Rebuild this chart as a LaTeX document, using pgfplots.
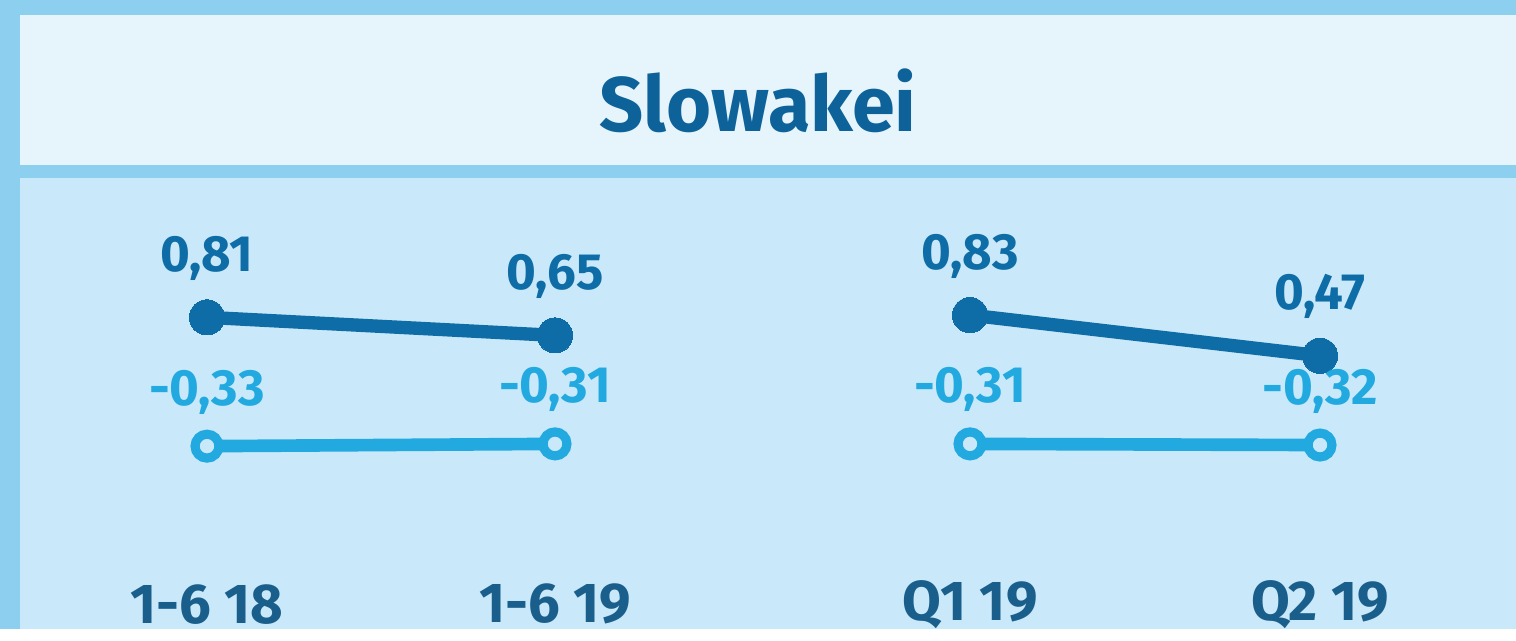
\documentclass[border=0pt]{standalone}
\usepackage{pgfplots}
\pgfplotsset{compat=1.18}
\usepackage{fontspec}
\setmainfont{Fira Sans}
\definecolor{frame}{HTML}{8CCFEE}
\definecolor{titlebg}{HTML}{E6F4FC}
\definecolor{plotbg}{HTML}{C9E9FA}
\definecolor{darkser}{HTML}{0E6DA6}
\definecolor{lightser}{HTML}{22A9E0}
\definecolor{titlecol}{HTML}{0D6399}
\definecolor{tickcol}{HTML}{1A5F8C}
\begin{document}
\begin{tikzpicture}[x=1cm,y=1cm]
% background (1 px = 0.01 cm, y measured from bottom)
\fill[frame] (0,0) rectangle (15.16,6.29);
\fill[plotbg] (0.20,0) rectangle (15.16,4.51);
\fill[titlebg] (0.20,4.64) rectangle (15.16,6.14);
\node[font=\bfseries\fontsize{22}{25}\selectfont, text=titlecol] at (7.58,5.29) {Slowakei};
\begin{axis}[
  at={(0,0)}, anchor=south west,
  width=15.16cm, height=6.29cm, scale only axis,
  xmin=0, xmax=1516, ymin=-1.951, ymax=3.615,
  clip=false,
  axis line style={draw=none},
  major tick length=0pt,
  ytick=\empty,
  xtick={207,555,970,1320},
  xticklabels={1-6 18, 1-6 19, Q1 19, Q2 19},
  xticklabel style={anchor=center, yshift=0.25cm, text=tickcol, font=\bfseries\fontsize{16}{18}\selectfont},
  point meta=explicit symbolic,
  nodes near coords,
  every node near coord/.append style={anchor=center, yshift=0.59cm, font=\bfseries\fontsize{14.5}{16}\selectfont},
]
% dark series
\addplot[darkser, line width=3.8pt, mark=*, mark size=5pt, mark options={fill=darkser, line width=0pt}, nodes near coords style={text=darkser}]
  coordinates {(207,0.81)[0,81] (555,0.65)[0,65]};
\addplot[darkser, line width=3.8pt, mark=*, mark size=5pt, mark options={fill=darkser, line width=0pt}, nodes near coords style={text=darkser}]
  coordinates {(970,0.83)[0,83] (1320,0.47)[0,47]};
% light series
\addplot[lightser, line width=3.6pt, mark=*, mark size=3.4pt, mark options={fill=plotbg, draw=lightser, line width=2.6pt}, nodes near coords style={text=lightser, yshift=-0.05cm}]
  coordinates {(207,-0.33)[-0,33] (555,-0.31)[-0,31]};
\addplot[lightser, line width=3.6pt, mark=*, mark size=3.4pt, mark options={fill=plotbg, draw=lightser, line width=2.6pt}, nodes near coords style={text=lightser, yshift=-0.05cm}]
  coordinates {(970,-0.31)[-0,31] (1320,-0.32)[-0,32]};
\end{axis}
\end{tikzpicture}
\end{document}
